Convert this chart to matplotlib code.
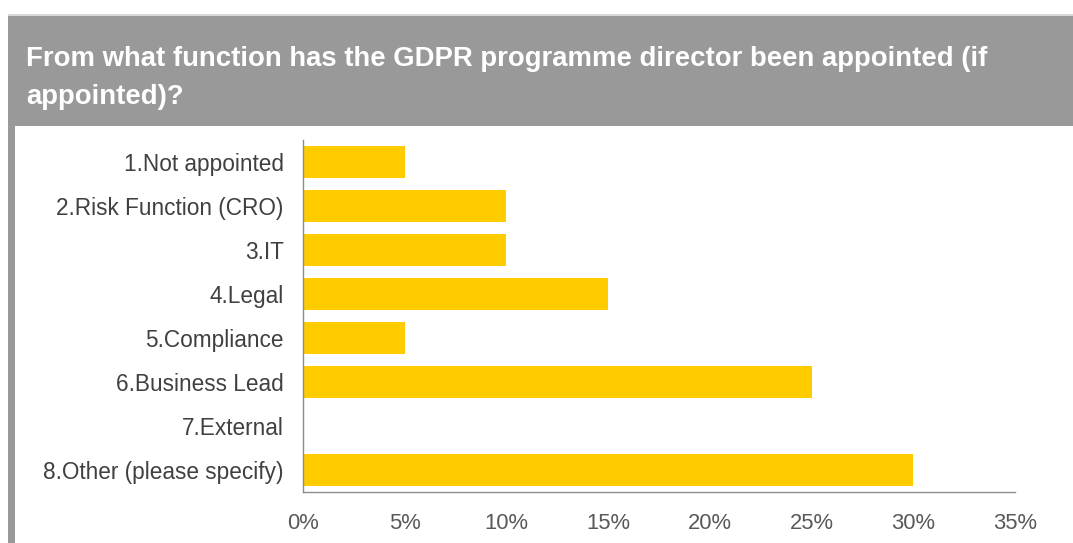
import matplotlib.pyplot as plt
from matplotlib.patches import Rectangle

plt.rcParams['font.family'] = ['Liberation Sans', 'DejaVu Sans']

title = "From what function has the GDPR programme director been appointed (if\nappointed)?"
categories = ["1.Not appointed", "2.Risk Function (CRO)", "3.IT", "4.Legal",
              "5.Compliance", "6.Business Lead", "7.External", "8.Other (please specify)"]
values = [5, 10, 10, 15, 5, 25, 0, 30]
ticks = [0, 5, 10, 15, 20, 25, 30, 35]

fig = plt.figure(figsize=(10.73, 5.43), dpi=100)
W, H = 1073, 543

# header band and left border
fig.patches.append(Rectangle((8 / W, 1 - 126 / H), 1, 111 / H, transform=fig.transFigure,
                             facecolor='#999999', edgecolor='none'))
fig.patches.append(Rectangle((8 / W, 1 - 16 / H), 1, 2 / H, transform=fig.transFigure,
                             facecolor='#d9d9d9', edgecolor='none'))
fig.patches.append(Rectangle((8 / W, 0), 7 / W, 1 - 126 / H, transform=fig.transFigure,
                             facecolor='#999999', edgecolor='none'))
fig.text(26 / W, 1 - 78 / H, title, color='white', fontsize=19.8, fontweight='bold',
         va='center', ha='left', linespacing=1.55)

ax = fig.add_axes([303 / W, 1 - 492 / H, 712 / W, 352 / H])
y = list(range(len(categories)))
ax.barh(y, values, height=0.74, color='#FFCC00')
ax.set_ylim(len(categories) - 0.5, -0.5)
ax.set_xlim(0, 35)
ax.set_yticks(y)
ax.set_yticklabels(categories, fontsize=16.3, color='#404040')
ax.set_xticks(ticks)
ax.set_xticklabels([f"{t}%" for t in ticks], fontsize=15.8, color='#595959')
ax.tick_params(axis='y', length=0, pad=14)
ax.tick_params(axis='x', length=0, pad=15)
for s in ['top', 'right']:
    ax.spines[s].set_visible(False)
for s in ['left', 'bottom']:
    ax.spines[s].set_color('#8c8c8c')
    ax.spines[s].set_linewidth(1)

fig.savefig('out.png', dpi=100)
